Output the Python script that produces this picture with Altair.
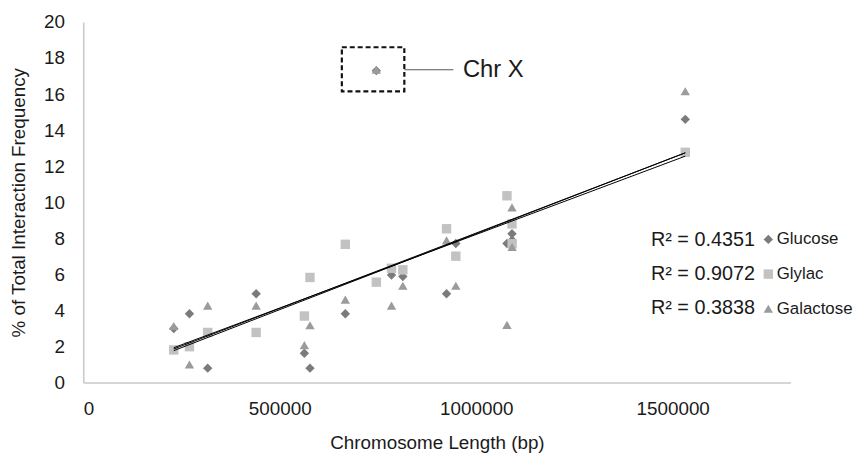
import altair as alt
import pandas as pd

# ---- data -----------------------------------------------------------
chromosomes = ["I", "VI", "III", "IX", "VIII", "V", "XI", "X", "XIV", "II",
               "XIII", "XVI", "XII", "VII", "XV", "IV"]
lengths = [230218, 270161, 316620, 439888, 562643, 576874, 666816, 745751,
           784333, 813184, 924431, 948066, 1078177, 1090940, 1091291, 1531933]
glucose = [3.00, 3.82, 0.80, 4.93, 1.63, 0.80, 3.82, 17.30, 5.97, 5.88,
           4.93, 7.71, 7.71, 8.25, 7.90, 14.60]
glylac = [1.81, 1.99, 2.78, 2.78, 3.69, 5.83, 7.67, 5.57, 6.34, 6.25,
          8.53, 7.01, 10.36, 8.80, 7.70, 12.77]
galactose = [3.14, 1.00, 4.27, 4.27, 2.08, 3.18, 4.60, 17.35, 4.27, 5.37,
             7.89, 5.37, 3.20, 9.72, 7.52, 16.16]

series_names = ["Glucose", "Glylac", "Galactose"]
r_squared = ["R\u00b2 = 0.4351", "R\u00b2 = 0.9072", "R\u00b2 = 0.3838"]
x_ticks = [0, 500000, 1000000, 1500000]
y_ticks = [0, 2, 4, 6, 8, 10, 12, 14, 16, 18, 20]

# Chr X annotation (data units)
box_x = [658000, 817000]
box_y = [16.15, 18.6]
callout_x = [817000, 942000]
callout_y = 17.35
label_x = 966000
label_text = "Chr X"

# ---- frames ---------------------------------------------------------
rows = []
for name, vals in zip(series_names, [glucose, glylac, galactose]):
    for c, L, v in zip(chromosomes, lengths, vals):
        rows.append({"chr": c, "len": L, "val": v, "series": name})
df = pd.DataFrame(rows)

FONT = "Liberation Sans"
TXT = "#1a1a1a"
colors = ["#7b7b7b", "#c2c2c2", "#9b9b9b"]
shapes = ["diamond", "square", "triangle-up"]

xscale = alt.Scale(domain=[0, 1800000], nice=False, zero=True)
yscale = alt.Scale(domain=[0, 20], nice=False)

axis_common = dict(grid=False, ticks=False, tickSize=0, labelOverlap=False,
                   labelFont=FONT, titleFont=FONT, labelFontSize=19,
                   titleFontSize=19, labelColor=TXT, titleColor=TXT,
                   titleFontWeight="normal", domainColor="#c8c8c8",
                   domainWidth=1.5)

x_axis = alt.Axis(values=x_ticks, format="d", labelPadding=17,
                  title="Chromosome Length (bp)", titlePadding=16,
                  **axis_common)
y_axis = alt.Axis(values=y_ticks, format="d", labelPadding=19,
                  title="% of Total Interaction Frequency",
                  titlePadding=15, **axis_common)


def X(field="len"):
    return alt.X(f"{field}:Q", scale=xscale, axis=x_axis)


def Y(field="val"):
    return alt.Y(f"{field}:Q", scale=yscale, axis=y_axis)


points = alt.Chart(df).mark_point(filled=True, opacity=1, size=90).encode(
    x=X(),
    y=Y(),
    color=alt.Color("series:N",
                    scale=alt.Scale(domain=series_names, range=colors),
                    legend=alt.Legend(orient="none", legendX=683, legendY=211,
                                      title=None, padding=0, rowPadding=17,
                                      labelFontSize=17, labelFont=FONT,
                                      labelColor=TXT, labelOffset=0,
                                      symbolSize=90, symbolStrokeWidth=0)),
    shape=alt.Shape("series:N",
                    scale=alt.Scale(domain=series_names, range=shapes),
                    legend=None),
    order=alt.Order("order:Q"),
).transform_calculate(
    order="indexof(['Glucose','Glylac','Galactose'], datum.series)"
)

trend = alt.Chart(df).transform_regression(
    "len", "val", groupby=["series"], method="linear"
).mark_line(color="#000000", strokeWidth=1).encode(
    x=X(), y=Y(), detail="series:N",
)

box_df = pd.DataFrame({"len": [box_x[0]], "len2": [box_x[1]],
                       "val": [box_y[0]], "val2": [box_y[1]]})
box = alt.Chart(box_df).mark_rect(fill=None, stroke="#111111", strokeWidth=2.2,
                                  strokeDash=[5, 3]).encode(
    x=X(), x2="len2:Q", y=Y(), y2="val2:Q")

callout_df = pd.DataFrame({"len": [callout_x[0]], "len2": [callout_x[1]],
                           "val": [callout_y]})
callout = alt.Chart(callout_df).mark_rule(color="#555555", strokeWidth=1).encode(
    x=X(), x2="len2:Q", y=Y())

label_df = pd.DataFrame({"len": [label_x], "val": [callout_y], "t": [label_text]})
label = alt.Chart(label_df).mark_text(align="left", baseline="middle",
                                      font=FONT, fontSize=24, color=TXT).encode(
    x=X(), y=Y(), text="t:N")

r2_layers = []
for i, txt in enumerate(r_squared):
    r2_layers.append(
        alt.Chart(pd.DataFrame({"t": [txt]})).mark_text(
            align="right", baseline="middle", font=FONT, fontSize=20,
            color=TXT).encode(
            x=alt.value(678), y=alt.value(220 + i * 34.5), text="t:N"))

chart = alt.layer(points, trend, box, callout, label, *r2_layers).properties(
    width=714, height=364,
    background="white",
    autosize=alt.AutoSizeParams(type="none"),
    padding={"left": 76, "top": 12, "right": 65, "bottom": 70},
).configure_view(stroke=None)

chart.save("out.html", embed_options={"renderer": "svg", "actions": False})
